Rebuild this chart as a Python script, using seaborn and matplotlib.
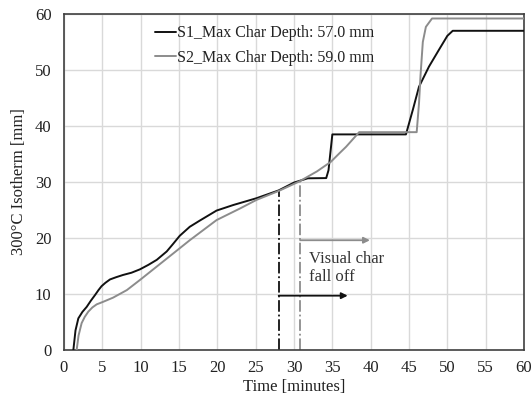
import matplotlib
matplotlib.use("Agg")
import matplotlib.pyplot as plt
import seaborn as sns
import pandas as pd

s1_time = [1.22, 1.5, 1.87, 2.4, 2.96, 3.5, 4.04, 4.5, 4.9, 5.4, 6.0, 6.8, 7.7, 8.8, 9.9, 11.0, 12.1, 13.4, 14.2, 15.1, 16.4, 17.7, 19.9, 22.1, 25.1, 28.0, 30.0, 31.8, 34.2, 34.5, 35.0, 44.6, 45.5, 46.3, 47.6, 48.9, 50.0, 50.7, 60.0]
s1_depth = [0.0, 3.5, 5.65, 6.8, 7.7, 8.8, 9.8, 10.7, 11.4, 12.0, 12.6, 13.0, 13.4, 13.8, 14.4, 15.2, 16.1, 17.6, 18.9, 20.4, 22.0, 23.1, 24.9, 25.9, 27.1, 28.5, 29.9, 30.66, 30.7, 32.1, 38.5, 38.5, 42.9, 47.0, 50.6, 53.6, 56.1, 57.0, 57.0]

s2_time = [1.65, 1.9, 2.3, 2.7, 3.17, 3.7, 4.26, 5.1, 6.4, 8.2, 9.9, 12.1, 14.3, 16.4, 19.9, 23.0, 25.1, 28.0, 30.7, 33.0, 34.8, 35.9, 36.8, 38.5, 46.0, 46.3, 46.5, 46.8, 47.2, 48.0, 60.0]
s2_depth = [0.0, 2.6, 4.8, 5.9, 6.85, 7.6, 8.15, 8.6, 9.35, 10.7, 12.5, 14.9, 17.3, 19.6, 23.2, 25.3, 26.8, 28.4, 30.1, 31.9, 33.6, 35.1, 36.3, 38.9, 38.9, 44.0, 49.0, 55.0, 57.7, 59.2, 59.2]

labels = ["S1_Max Char Depth: 57.0 mm", "S2_Max Char Depth: 59.0 mm"]
fall_off_time = [28.0, 30.8]
fall_off_depth = [28.5, 30.2]
arrow_y = [9.7, 19.6]
arrow_end = [37.0, 39.9]
colors = ["#111111", "#8c8c8c"]

sns.set_theme(style="white")
plt.rcParams["font.family"] = ["Liberation Serif", "DejaVu Serif"]

fig = plt.figure(figsize=(5.32, 4.0), dpi=100)
ax = fig.add_axes([0.1203, 0.125, 0.8647, 0.84])

df1 = pd.DataFrame({"t": s1_time, "d": s1_depth})
df2 = pd.DataFrame({"t": s2_time, "d": s2_depth})
sns.lineplot(data=df1, x="t", y="d", ax=ax, color=colors[0], lw=1.4, sort=False, estimator=None, label=labels[0], zorder=3)
sns.lineplot(data=df2, x="t", y="d", ax=ax, color=colors[1], lw=1.4, sort=False, estimator=None, label=labels[1], zorder=3)

for i in range(2):
    ax.plot([fall_off_time[i], fall_off_time[i]], [0, fall_off_depth[i]], color=colors[i], lw=1.3, ls="-.", zorder=2)
    ax.annotate("", xy=(arrow_end[i], arrow_y[i]), xytext=(fall_off_time[i], arrow_y[i]),
                arrowprops=dict(arrowstyle="-|>", color=colors[i], lw=1.3, mutation_scale=9, shrinkA=0, shrinkB=0), zorder=4)

ax.text(31.9, 17.6, "Visual char\nfall off", fontsize=12, color="#333333", va="top", ha="left", linespacing=1.15)

ax.set_xlim(0, 60)
ax.set_ylim(0, 60)
ax.set_xticks(range(0, 61, 5))
ax.set_yticks(range(0, 61, 10))
ax.grid(True, color="#d9d9d9", lw=1)
ax.set_axisbelow(True)
for s in ax.spines.values():
    s.set_color("#404040")
    s.set_linewidth(1.2)
ax.tick_params(axis="both", direction="out", length=5, width=1, color="#404040", labelsize=12, labelcolor="#222222")
ax.tick_params(axis="x", pad=2.5)
ax.tick_params(axis="y", pad=4)
ax.set_xlabel("Time [minutes]", fontsize=12, color="#222222", labelpad=2)
ax.set_ylabel("300°C Isotherm [mm]", fontsize=12, color="#222222", labelpad=6)

leg = ax.legend(loc="upper left", bbox_to_anchor=(0.17, 1.005), frameon=False, fontsize=11.5,
                handlelength=1.3, handletextpad=0.05, labelspacing=0.55, borderaxespad=0.4)
for t in leg.get_texts():
    t.set_color("#222222")

fig.savefig("out.png", dpi=100)
